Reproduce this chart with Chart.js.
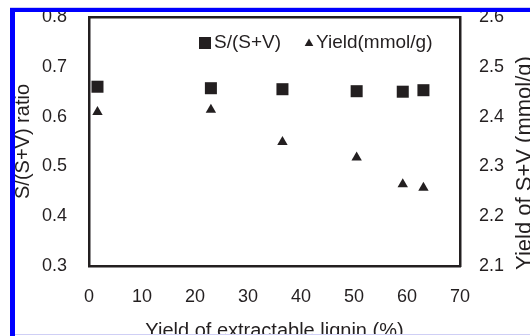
<!DOCTYPE html>
<html>
<head>
<meta charset="utf-8">
<script src="https://cdn.jsdelivr.net/npm/chart.js@4.4.1/dist/chart.umd.min.js"></script>
<style>
  html, body { margin: 0; padding: 0; background: #fff; }
  #wrap { width: 530px; height: 336px; }
</style>
</head>
<body>
<div id="wrap"><canvas id="chart" width="530" height="336"></canvas></div>
<script>
// Values
const ligninYield = [1.6, 23.0, 36.5, 50.5, 59.2, 63.1];        // x axis, %
const sRatio = [0.660, 0.657, 0.655, 0.651, 0.650, 0.653];      // left axis
const svYield = [2.409, 2.414, 2.349, 2.318, 2.264, 2.257];     // right axis, mmol/g
const xTicks = [0, 10, 20, 30, 40, 50, 60, 70];
const leftTicks = [0.3, 0.4, 0.5, 0.6, 0.7, 0.8];
const rightTicks = [2.1, 2.2, 2.3, 2.4, 2.5, 2.6];
const seriesNames = ['S/(S+V)', 'Yield(mmol/g)'];
const xTitle = 'Yield of extractable lignin (%)';
const leftTitle = 'S/(S+V) ratio';
const rightTitle = 'Yield of S+V (mmol/g)';

const ink = '#231f20';
const fontFamily = '"Liberation Sans", Arial, sans-serif';

// Set fixed tick values from the arrays above
function useTicks(values) {
    return scale => { scale.ticks = values.map(v => ({ value: v })); };
}

// Fixed axis width; drop the label padding so the plot keeps its top edge
function fixWidth(w) {
    return scale => {
        scale.width = w;
        scale.paddingTop = 0;
        scale.paddingBottom = 0;
    };
}

// Legend inside the plot, right title read bottom-to-top, and the scan's blue frame
const decorations = {
    id: 'decorations',
    afterDraw(chart) {
        const ctx = chart.ctx;
        ctx.save();
        ctx.fillStyle = ink;
        ctx.font = '19px ' + fontFamily;
        ctx.textAlign = 'left';
        ctx.textBaseline = 'middle';

        // legend
        Chart.helpers.drawPoint(ctx, { pointStyle: 'rect', radius: 8.5, rotation: 0, borderWidth: 0 }, 205, 43);
        ctx.fillText(seriesNames[0], 214, 43);
        Chart.helpers.drawPoint(ctx, { pointStyle: 'triangle', radius: 5, rotation: 0, borderWidth: 0 }, 309, 43.5);
        ctx.fillText(seriesNames[1], 316, 43);

        // right axis title
        ctx.font = '22px ' + fontFamily;
        ctx.textAlign = 'center';
        ctx.translate(525, 163);
        ctx.rotate(-Math.PI / 2);
        ctx.fillText(rightTitle, 0, 0);
        ctx.restore();

        // crop edges and blue frame
        ctx.save();
        ctx.fillStyle = '#fff';
        ctx.fillRect(0, 0, 530, 8);
        ctx.fillRect(0, 0, 10, 336);
        ctx.fillRect(0, 335, 530, 1);
        ctx.fillStyle = '#cfcff5';
        ctx.fillRect(10, 7, 520, 1);
        ctx.fillRect(15, 334, 515, 1);
        ctx.fillStyle = '#0000ff';
        ctx.fillRect(10, 8, 520, 4);
        ctx.fillRect(10, 8, 5, 328);
        ctx.restore();
    }
};

new Chart(document.getElementById('chart'), {
    type: 'scatter',
    data: {
        datasets: [
            {
                label: seriesNames[0],
                data: ligninYield.map((x, i) => ({ x, y: sRatio[i] })),
                yAxisID: 'y',
                pointStyle: 'rect',
                pointRadius: 8.5,
                backgroundColor: ink,
                borderWidth: 0
            },
            {
                label: seriesNames[1],
                data: ligninYield.map((x, i) => ({ x, y: svYield[i] })),
                yAxisID: 'y2',
                pointStyle: 'triangle',
                pointRadius: 6,
                backgroundColor: ink,
                borderWidth: 0
            }
        ]
    },
    options: {
        responsive: false,
        animation: false,
        devicePixelRatio: 1,
        layout: { padding: { top: 17, left: 0, right: 0, bottom: 0 } },
        plugins: {
            legend: { display: false },
            tooltip: { enabled: false }
        },
        scales: {
            x: {
                type: 'linear',
                position: 'bottom',
                min: 0,
                max: 70,
                afterBuildTicks: useTicks(xTicks),
                afterFit: s => { s.height = 70; },
                grid: { display: false, drawTicks: false },
                border: { display: true, color: ink, width: 2.5 },
                ticks: { padding: 20, color: ink, font: { family: fontFamily, size: 18 }, callback: v => String(v) },
                title: {
                    display: true,
                    text: xTitle,
                    color: ink,
                    font: { family: fontFamily, size: 20 },
                    padding: { top: 0, bottom: -7 }
                }
            },
            x2: {
                type: 'linear',
                position: 'top',
                min: 0,
                max: 70,
                afterFit: s => { s.height = 0; },
                grid: { display: false, drawTicks: false },
                border: { display: true, color: ink, width: 2.5 },
                ticks: { display: false }
            },
            y: {
                type: 'linear',
                position: 'left',
                min: 0.3,
                max: 0.8,
                afterBuildTicks: useTicks(leftTicks),
                afterFit: fixWidth(89),
                grid: { display: false, drawTicks: false },
                border: { display: true, color: ink, width: 2.5 },
                ticks: { padding: 22, color: ink, font: { family: fontFamily, size: 18 }, callback: v => v.toFixed(1) },
                title: {
                    display: true,
                    text: leftTitle,
                    color: ink,
                    font: { family: fontFamily, size: 20 },
                    padding: { top: 11, bottom: 0 }
                }
            },
            y2: {
                type: 'linear',
                position: 'right',
                min: 2.1,
                max: 2.6,
                afterBuildTicks: useTicks(rightTicks),
                afterFit: fixWidth(70),
                grid: { display: false, drawTicks: false },
                border: { display: true, color: ink, width: 2.5 },
                ticks: { padding: 19, color: ink, font: { family: fontFamily, size: 18 }, callback: v => v.toFixed(1) }
            }
        }
    },
    plugins: [decorations]
});
</script>
</body>
</html>
